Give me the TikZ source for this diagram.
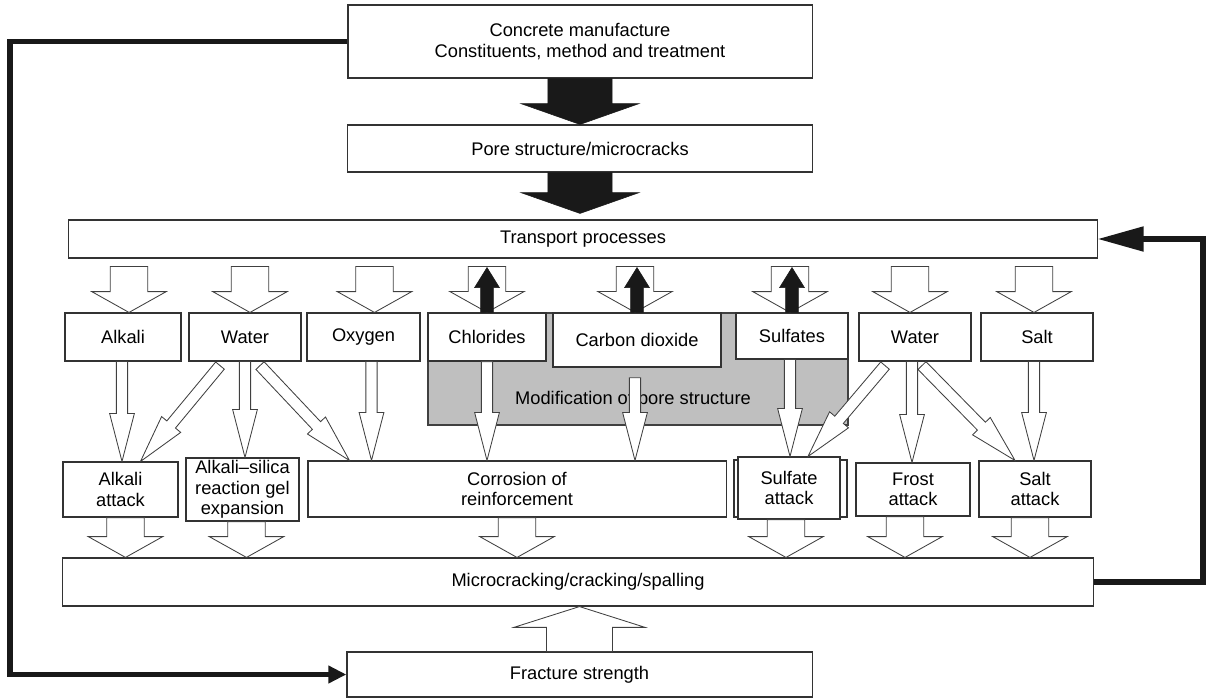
\documentclass[tikz,border=0pt]{standalone}
\usepackage{fontspec}
\setmainfont{Liberation Sans}
\usetikzlibrary{arrows.meta,calc}
\newcommand{\boxfont}{\fontsize{13}{14.5}\selectfont}

\begin{document}
\begin{tikzpicture}[x=0.025cm, y=-0.025cm,
          box/.style={draw=black!80, fill=white, line width=0.8pt, align=center, inner sep=1pt, font=\boxfont},
          modbox/.style={draw=black!75, fill=black!25, line width=1.2pt},
          blkarrow/.style n args={3}{to path={(\tikztostart) coordinate (bas) (\tikztotarget) coordinate (bat)
              ($(bat)!#3!(bas)$) coordinate (bac)
              ($(bas)!#1!90:(bat)$) -- ($(bac)!#1!90:(bat)$) -- ($(bac)!#2!90:(bat)$) -- (bat)
              -- ($(bac)!#2!-90:(bat)$) -- ($(bac)!#1!-90:(bat)$) -- ($(bas)!#1!-90:(bat)$) -- cycle}},
          opn/.style={draw=black!75, fill=white, line width=0.6pt},
          bigopen/.style={opn, blkarrow={0.47cm}{0.93cm}{0.52cm}},
          thinopen/.style={opn, blkarrow={0.14cm}{0.31cm}{1.2cm}},
          blkup/.style={draw=black!90, fill=black!90, line width=0.4pt, blkarrow={0.16cm}{0.31cm}{0.5cm}},
          blkbig/.style={draw=black!90, fill=black!90, line width=0.4pt, blkarrow={0.8cm}{1.475cm}{0.52cm}},
          fbk/.style={line width=0.13cm, black!90}]
        \useasboundingbox (0,0) rectangle (1210,698);
        \filldraw[modbox] (428,313) rectangle (848,425);
        \node[font=\boxfont] (modtxt) at (633,400) {Modification of pore structure};
        \node[box, minimum width=11.6cm, minimum height=1.825cm] (cm) at (580,41.5) {Concrete manufacture\\Constituents, method and treatment};
        \node[box, minimum width=11.625cm, minimum height=1.175cm] (pore) at (580,148.5) {Pore structure/microcracks};
        \node[box, minimum width=25.7cm, minimum height=0.95cm] (tp) at (583,239) {Transport processes};
        \node[box, minimum width=2.9cm, minimum height=1.2cm] (alk) at (123,337) {Alkali};
        \node[box, minimum width=2.8cm, minimum height=1.2cm] (wat) at (245,337) {Water};
        \node[box, minimum width=2.825cm, minimum height=1.2cm] (ox) at (363.5,337) {Oxygen};
        \node[box, line width=1pt, minimum width=2.95cm, minimum height=1.2cm] (chl) at (487,337) {Chlorides};
        \node[box, line width=1pt, minimum width=4.2cm, minimum height=1.35cm] (co2) at (637,340) {Carbon dioxide};
        \node[box, minimum width=2.8cm, minimum height=1.15cm] (sul) at (792,336) {Sulfates};
        \node[box, minimum width=2.8cm, minimum height=1.2cm] (wat2) at (915,337) {Water};
        \node[box, minimum width=2.8cm, minimum height=1.2cm] (salt) at (1037,337) {Salt};
        \node[box, minimum width=2.875cm, minimum height=1.375cm] (alkatk) at (120.5,489.5) {Alkali\\attack};
        \node[box, minimum width=2.825cm, minimum height=1.575cm] (asr) at (242.5,489.5) {Alkali–silica\\reaction gel\\expansion};
        \node[box, minimum width=10.45cm, minimum height=1.4cm] (cor) at (517,489) {Corrosion of\\reinforcement};
        \node[box, line width=1.3pt, minimum width=2.825cm, minimum height=1.425cm] (sulbk) at (790.5,488.5) {};
        \node[box, minimum width=2.55cm, minimum height=1.55cm] (sulatk) at (789,488) {Sulfate\\attack};
        \node[box, minimum width=2.85cm, minimum height=1.325cm] (frost) at (913,489.5) {Frost\\attack};
        \node[box, minimum width=2.8cm, minimum height=1.4cm] (saltatk) at (1035,489) {Salt\\attack};
        \node[box, minimum width=25.75cm, minimum height=1.2cm] (mc) at (578,582) {Microcracking/cracking/spalling};
        \node[box, minimum width=11.625cm, minimum height=1.125cm] (fr) at (579.5,674.5) {Fracture strength};
        \draw[blkbig] (cm.south) to (pore.north);
        \draw[blkbig] (pore.south) to ($(pore.south |- tp.north)+(0,-6)$);
        \foreach \n/\d in {alk/6,wat/5,ox/11,chl/0,co2/-2,sul/-2,wat2/-5,salt/-3}
          {\draw[bigopen] ($(tp.south -| \n)+(\d,8)$) to ($(\n.north)+(\d,0)$);}
        \foreach \n in {chl,co2,sul} {\draw[blkup] (\n.north) to ($(tp.south -| \n)+(0,9)$);}
        \foreach \a/\b/\d in {alk/alkatk/-1,wat/asr/0,ox/cor/8,chl/cor/0,sul/sulatk/-2,wat2/frost/-3,salt/saltatk/-3}
          {\draw[thinopen] ($(\a.south)+(\d,0)$) to ($(\a.south |- \b.north)+(\d,0)$);}
        \draw[thinopen] ($(co2.south)+(-2,10)$) to ($(co2.south |- cor.north)+(-2,0)$);
        \draw[thinopen] ([xshift=-0.625cm,yshift=-0.1cm]wat.south) to ([xshift=0.5cm]alkatk.north);
        \draw[thinopen] ([xshift=0.375cm,yshift=-0.1cm]wat.south) to ([xshift=1.05cm]cor.north west);
        \draw[thinopen] ([xshift=-0.75cm,yshift=-0.1cm]wat2.south) to ([xshift=0.475cm]sulatk.north);
        \draw[thinopen] ([xshift=0.175cm,yshift=-0.1cm]wat2.south) to ([xshift=-0.5cm]saltatk.north);
        \foreach \n/\d in {alkatk/5,asr/4,cor/0,sulatk/-3,frost/-8,saltatk/-5}
          {\draw[bigopen] ($(\n.south)+(\d,0)$) to ($(\n.south |- mc.north)+(\d,0)$);}
        \draw[opn, blkarrow={0.825cm}{1.64cm}{0.52cm}] (fr.north) to (fr.north |- mc.south);
        \coordinate (lft) at (10,360);
        \coordinate (rgt) at (1203,400);
        \draw[fbk, -{Triangle[length=0.45cm,width=0.42cm]}] (cm.west) -- (cm.west -| lft) -- (lft |- fr.west) -- (fr.west);
        \draw[fbk, -{Triangle[length=1.15cm,width=0.6cm]}] (mc.east) -- (mc.east -| rgt) -- (rgt |- tp.east) -- (tp.east);
      \end{tikzpicture}
\end{document}
